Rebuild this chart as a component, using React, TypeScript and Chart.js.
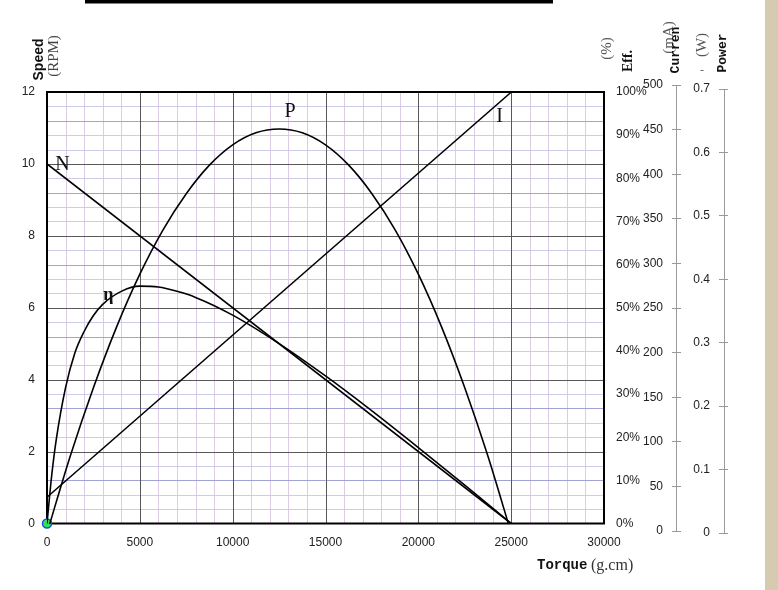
import React, { useEffect, useRef } from 'react';
import { Chart, registerables } from 'chart.js';

Chart.register(...registerables);

// ---- tick labels ----
const torqueTicks = [0, 5000, 10000, 15000, 20000, 25000, 30000];
const speedTicks = [0, 2, 4, 6, 8, 10, 12];
const effTicks = [0, 10, 20, 30, 40, 50, 60, 70, 80, 90, 100];
const currentTicks = [0, 50, 100, 150, 200, 250, 300, 350, 400, 450, 500];
const powerTicks = [0, 0.1, 0.2, 0.3, 0.4, 0.5, 0.6, 0.7];

// ---- series ----
const speedTorque = [0, 25000];
const speedValues = [10, 0];

const currentTorque = [0, 25000];
const currentValues = [38, 492];

const effTorque = [0, 250, 500, 1000, 1500, 2000, 2500, 3000, 4000, 5000, 6000, 7000, 8000, 10000, 12500, 15000, 17500, 20000, 22500, 25000];
const effValues = [0, 11, 19.5, 31.5, 39.5, 44.5, 48.2, 50.8, 53.8, 55, 54.8, 53.8, 52.4, 48.3, 41.7, 34.2, 26.1, 17.6, 8.9, 0];

const powerTorque = [0, 1250, 2500, 3750, 5000, 6250, 7500, 8750, 10000, 11250, 12500, 13750, 15000, 16250, 17500, 18750, 20000, 21250, 22500, 23750, 25000];
const powerValues = [0, 0.121, 0.229, 0.325, 0.408, 0.478, 0.535, 0.58, 0.612, 0.631, 0.637, 0.631, 0.612, 0.58, 0.535, 0.478, 0.408, 0.325, 0.229, 0.121, 0];

const originTorque = [0];
const originSpeed = [0];

// curve labels (data coordinates on torque / speed scales)
const curveLabels = [
  { text: 'N', torque: 835, speed: 9.98, bold: false, size: 20 },
  { text: 'P', torque: 13090, speed: 11.44, bold: false, size: 20 },
  { text: 'I', torque: 24370, speed: 11.3, bold: false, size: 20 },
  { text: 'η', torque: 3310, speed: 6.35, bold: true, size: 18 },
];

const TICK_FONT = "'Liberation Sans', Arial, sans-serif";
const SERIF = "'Liberation Serif', 'Times New Roman', serif";
const MONO = "'Liberation Mono', 'Courier New', monospace";
const SANS = "'Liberation Sans', Arial, sans-serif";

function pts(xs: number[], ys: number[]) {
  return xs.map((x, i) => ({ x, y: ys[i] }));
}

function vtext(ctx: CanvasRenderingContext2D, text: string, cx: number, cy: number, font: string, color: string, sx = 1) {
  ctx.save();
  ctx.translate(cx, cy);
  ctx.rotate(-Math.PI / 2);
  ctx.scale(sx, 1);
  ctx.font = font;
  ctx.fillStyle = color;
  ctx.textAlign = 'center';
  ctx.textBaseline = 'middle';
  ctx.fillText(text, 0, 0);
  ctx.restore();
}

const decorPlugin = {
  id: 'decor',
  beforeDraw(chart: any) {
    const ctx: CanvasRenderingContext2D = chart.ctx;
    ctx.save();
    ctx.fillStyle = '#d6cbb1';
    ctx.fillRect(765, 0, 13, 590);
    ctx.fillStyle = '#000';
    ctx.fillRect(85, 0, 468, 3.5);
    ctx.restore();
  },
  beforeDatasetsDraw(chart: any) {
    const ctx: CanvasRenderingContext2D = chart.ctx;
    const xs = chart.scales.x;
    const ss = chart.scales.speed;
    const left = xs.getPixelForValue(0);
    const right = xs.getPixelForValue(30000);
    const top = ss.getPixelForValue(12);
    const bottom = ss.getPixelForValue(0);
    ctx.save();
    ctx.lineWidth = 1;
    const vline = (px: number, color: string) => {
      const p = Math.round(px) + 0.5;
      ctx.strokeStyle = color;
      ctx.beginPath();
      ctx.moveTo(p, top);
      ctx.lineTo(p, bottom);
      ctx.stroke();
    };
    const hline = (py: number, color: string) => {
      const p = Math.round(py) + 0.5;
      ctx.strokeStyle = color;
      ctx.beginPath();
      ctx.moveTo(left, p);
      ctx.lineTo(right, p);
      ctx.stroke();
    };
    // minor lines
    for (let t = 1000; t < 30000; t += 1000) {
      if (t % 5000 !== 0) vline(xs.getPixelForValue(t), '#dccbe4');
    }
    for (let k = 1; k < 30; k++) {
      if (k % 5 === 0) continue;
      hline(ss.getPixelForValue(k * 0.4), k % 5 === 3 ? '#a2a2d6' : '#cdcdea');
    }
    // major lines
    for (let t = 5000; t < 30000; t += 5000) vline(xs.getPixelForValue(t), '#585858');
    for (let k = 5; k < 30; k += 5) hline(ss.getPixelForValue(k * 0.4), '#585858');
    // frame
    ctx.strokeStyle = '#000';
    ctx.lineWidth = 2;
    ctx.strokeRect(left, top, right - left, bottom - top);

    // secondary axis lines (current / power)
    const cs = chart.scales.current;
    const ps = chart.scales.power;
    ctx.strokeStyle = '#999';
    ctx.lineWidth = 1;
    const cx = Math.round(cs.left + 4) + 0.5;
    ctx.beginPath();
    ctx.moveTo(cx, cs.getPixelForValue(currentTicks[currentTicks.length - 1]));
    ctx.lineTo(cx, cs.getPixelForValue(0));
    ctx.stroke();
    const px = Math.round(ps.left + 5) + 0.5;
    ctx.beginPath();
    ctx.moveTo(px, ps.getPixelForValue(powerTicks[powerTicks.length - 1]));
    ctx.lineTo(px, ps.getPixelForValue(0));
    ctx.stroke();
    ctx.restore();
  },
  afterDraw(chart: any) {
    const ctx: CanvasRenderingContext2D = chart.ctx;
    const xs = chart.scales.x;
    const ss = chart.scales.speed;
    ctx.save();
    // curve labels
    for (const l of curveLabels) {
      ctx.font = `${l.bold ? 'bold ' : ''}${l.size}px ${SERIF}`;
      ctx.fillStyle = '#111';
      ctx.textAlign = 'center';
      ctx.textBaseline = 'middle';
      ctx.fillText(l.text, xs.getPixelForValue(l.torque), ss.getPixelForValue(l.speed));
    }
    // axis titles
    vtext(ctx, 'Speed', 39, 59.5, `bold 14px ${SANS}`, '#111');
    vtext(ctx, '(RPM)', 54.5, 56, `15px ${SERIF}`, '#444');
    vtext(ctx, '(%)', 607.5, 48.5, `15px ${SERIF}`, '#555');
    vtext(ctx, 'Eff.', 628, 61, `bold 14px ${SERIF}`, '#111');
    vtext(ctx, '(mA)', 669, 37.5, `15px ${SERIF}`, '#555');
    vtext(ctx, 'Curren', 676, 50, `bold 13px ${MONO}`, '#111');
    vtext(ctx, '(W)', 702.5, 45, `15px ${SERIF}`, '#555');
    vtext(ctx, 'Power', 722.5, 53, `bold 13px ${MONO}`, '#111');
    ctx.font = `12px ${SERIF}`;
    ctx.fillStyle = '#666';
    ctx.textAlign = 'center';
    ctx.textBaseline = 'middle';
    ctx.fillText('-', 702, 71);

    ctx.textAlign = 'left';
    ctx.textBaseline = 'middle';
    ctx.font = `bold 14px ${MONO}`;
    ctx.fillStyle = '#111';
    ctx.fillText('Torque', 537, 565);
    ctx.font = `16px ${SERIF}`;
    ctx.fillStyle = '#333';
    ctx.fillText('(g.cm)', 591, 566);
    ctx.restore();
  },
};

function setTicks(values: number[]) {
  return (scale: any) => {
    scale.ticks = values.map((v) => ({ value: v }));
  };
}

function setWidth(w: number) {
  return (scale: any) => {
    scale.width = w;
  };
}

export default function App() {
  const ref = useRef<HTMLCanvasElement>(null);

  useEffect(() => {
    if (!ref.current) return;
    const tickFont = { family: TICK_FONT, size: 12 };
    const noGrid = { display: false, drawTicks: false };
    const plotClip = { left: 0, right: 0, top: -7, bottom: -9 };
    const chart = new Chart(ref.current, {
      type: 'line',
      data: {
        datasets: [
          {
            label: 'N',
            data: pts(speedTorque, speedValues),
            yAxisID: 'speed',
            borderColor: '#000',
            borderWidth: 1.6,
            pointRadius: 0,
            tension: 0,
            clip: plotClip,
          },
          {
            label: 'I',
            data: pts(currentTorque, currentValues),
            yAxisID: 'current',
            borderColor: '#000',
            borderWidth: 1.4,
            pointRadius: 0,
            tension: 0,
            clip: plotClip,
          },
          {
            label: 'η',
            data: pts(effTorque, effValues),
            yAxisID: 'eff',
            borderColor: '#000',
            borderWidth: 1.6,
            pointRadius: 0,
            cubicInterpolationMode: 'monotone',
            clip: plotClip,
          },
          {
            label: 'P',
            data: pts(powerTorque, powerValues),
            yAxisID: 'power',
            borderColor: '#000',
            borderWidth: 1.6,
            pointRadius: 0,
            cubicInterpolationMode: 'monotone',
            clip: plotClip,
          },
          {
            label: 'origin',
            data: pts(originTorque, originSpeed),
            yAxisID: 'speed',
            showLine: false,
            pointRadius: 4.5,
            pointBackgroundColor: '#2fe05a',
            pointBorderColor: '#1d4fd6',
            pointBorderWidth: 1.5,
            clip: false,
          },
        ] as any,
      },
      options: {
        animation: false,
        responsive: false,
        events: [],
        layout: { padding: { top: 85, left: 0, right: 0, bottom: 0 } },
        plugins: {
          legend: { display: false },
          tooltip: { enabled: false },
          title: { display: false },
        },
        scales: {
          x: {
            type: 'linear',
            position: 'bottom',
            min: 0,
            max: 30000,
            afterBuildTicks: setTicks(torqueTicks),
            afterFit: (s: any) => { s.height = 57; },
            grid: noGrid,
            border: { display: false },
            ticks: { font: tickFont, color: '#222', padding: 2, autoSkip: false, maxRotation: 0, callback: (v: any) => String(v) },
          },
          speed: {
            type: 'linear',
            position: 'left',
            min: -0.2642,
            max: 12.1947,
            afterBuildTicks: setTicks(speedTicks),
            afterFit: setWidth(47),
            grid: noGrid,
            border: { display: false },
            ticks: { font: tickFont, color: '#222', padding: 12, autoSkip: false, callback: (v: any) => String(v) },
          },
          eff: {
            type: 'linear',
            position: 'right',
            weight: 0,
            min: -2.2015,
            max: 101.622,
            afterBuildTicks: setTicks(effTicks),
            afterFit: setWidth(68),
            grid: noGrid,
            border: { display: false },
            ticks: { font: tickFont, color: '#222', padding: 12, autoSkip: false, callback: (v: any) => v + '%' },
          },
          current: {
            type: 'linear',
            position: 'right',
            weight: 1,
            min: -2.242,
            max: 500,
            afterBuildTicks: setTicks(currentTicks),
            afterFit: setWidth(47),
            grid: { display: true, drawOnChartArea: false, drawTicks: true, tickLength: 9, color: '#999', lineWidth: 1 },
            border: { display: false },
            ticks: { font: tickFont, color: '#222', mirror: true, padding: -9, autoSkip: false, callback: (v: any) => String(v) },
          },
          power: {
            type: 'linear',
            position: 'right',
            weight: 2,
            min: 0,
            max: 0.70631,
            afterBuildTicks: setTicks(powerTicks),
            afterFit: setWidth(59),
            grid: { display: true, drawOnChartArea: false, drawTicks: true, tickLength: 9, color: '#999', lineWidth: 1 },
            border: { display: false },
            ticks: { font: tickFont, color: '#222', mirror: true, padding: -9, autoSkip: false, callback: (v: any) => String(v) },
          },
        },
      } as any,
      plugins: [decorPlugin],
    });
    return () => chart.destroy();
  }, []);

  return (
    <div style={{ position: 'absolute', left: 0, top: 0, width: 778, height: 590, background: '#fff', overflow: 'hidden' }}>
      <canvas ref={ref} width={778} height={590} style={{ display: 'block', width: 778, height: 590 }} />
    </div>
  );
}
